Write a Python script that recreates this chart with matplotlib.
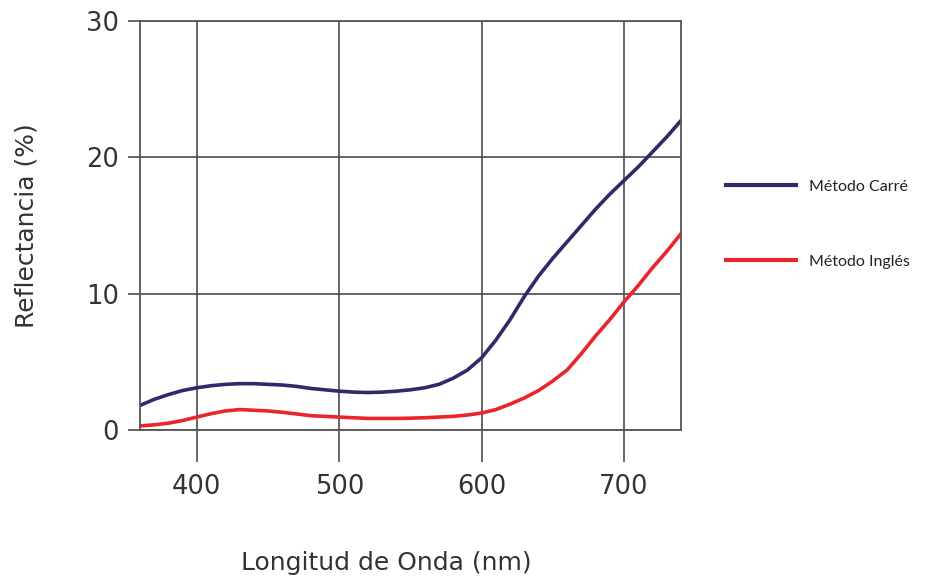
import matplotlib.pyplot as plt
from matplotlib.lines import Line2D

# wavelength (nm) and reflectance (%)
wavelength = [360, 370, 380, 390, 400, 410, 420, 430, 440, 450,
              460, 470, 480, 490, 500, 510, 520, 530, 540, 550,
              560, 570, 580, 590, 600, 610, 620, 630, 640, 650,
              660, 670, 680, 690, 700, 710, 720, 730, 740]
carre = [1.8, 2.25, 2.6, 2.9, 3.1, 3.25, 3.35, 3.4, 3.4, 3.35,
         3.3, 3.2, 3.05, 2.95, 2.85, 2.78, 2.75, 2.78, 2.85, 2.95,
         3.1, 3.35, 3.8, 4.4, 5.3, 6.6, 8.1, 9.8, 11.3, 12.6,
         13.8, 15.0, 16.2, 17.3, 18.3, 19.3, 20.4, 21.5, 22.7]
ingles = [0.3, 0.38, 0.5, 0.7, 0.95, 1.2, 1.4, 1.5, 1.45, 1.4,
          1.3, 1.18, 1.05, 1.0, 0.95, 0.9, 0.85, 0.85, 0.85, 0.87,
          0.9, 0.95, 1.0, 1.1, 1.25, 1.5, 1.9, 2.35, 2.9, 3.6,
          4.4, 5.6, 6.9, 8.1, 9.4, 10.6, 11.9, 13.1, 14.4]

series_labels = ["Método Carré", "Método Inglés"]
x_ticks = [400, 500, 600, 700]
y_ticks = [0, 10, 20, 30]

NAVY = "#2e2b6b"
RED = "#e8262b"
TEXT = "#333333"
GRID = "#4a4a4a"

fig = plt.figure(figsize=(9.35, 5.83), dpi=100)
ax = fig.add_axes([0.1497, 0.2624, 0.5786, 0.7015])

ax.plot(wavelength, carre, color=NAVY, lw=2.6, solid_joinstyle="round")
ax.plot(wavelength, ingles, color=RED, lw=2.6, solid_joinstyle="round")

ax.set_xlim(360, 740)
ax.set_ylim(0, 30)
ax.set_xticks(x_ticks)
ax.set_yticks(y_ticks)
ax.grid(True, color=GRID, lw=1.2)
ax.set_axisbelow(True)

for spine in ax.spines.values():
    spine.set_color("#555555")
    spine.set_linewidth(1.3)

ax.tick_params(axis="x", length=23, width=1.2, color=GRID, pad=9,
               labelsize=18.5, labelcolor=TEXT)
ax.tick_params(axis="y", length=9, width=1.2, color=GRID, pad=6,
               labelsize=18.5, labelcolor=TEXT)

ax.set_xlabel("Longitud de Onda (nm)", fontsize=18, color=TEXT)
ax.set_ylabel("Reflectancia (%)", fontsize=18, color=TEXT)
# label positions in axes fraction (x label sits left of the axes centre)
ax.xaxis.set_label_coords(0.455, -0.295)
ax.yaxis.set_label_coords(-0.188, 0.5)

handles = [Line2D([], [], color=NAVY, lw=3), Line2D([], [], color=RED, lw=3)]
fig.legend(handles, series_labels, loc="upper left",
           bbox_to_anchor=(0.776, 0.692), frameon=False,
           prop={"family": "Lato", "size": 11.5}, labelcolor="#222222",
           handlelength=4.4, handletextpad=0.8, labelspacing=3.8,
           borderpad=0, borderaxespad=0)

fig.savefig("out.png", dpi=100)
